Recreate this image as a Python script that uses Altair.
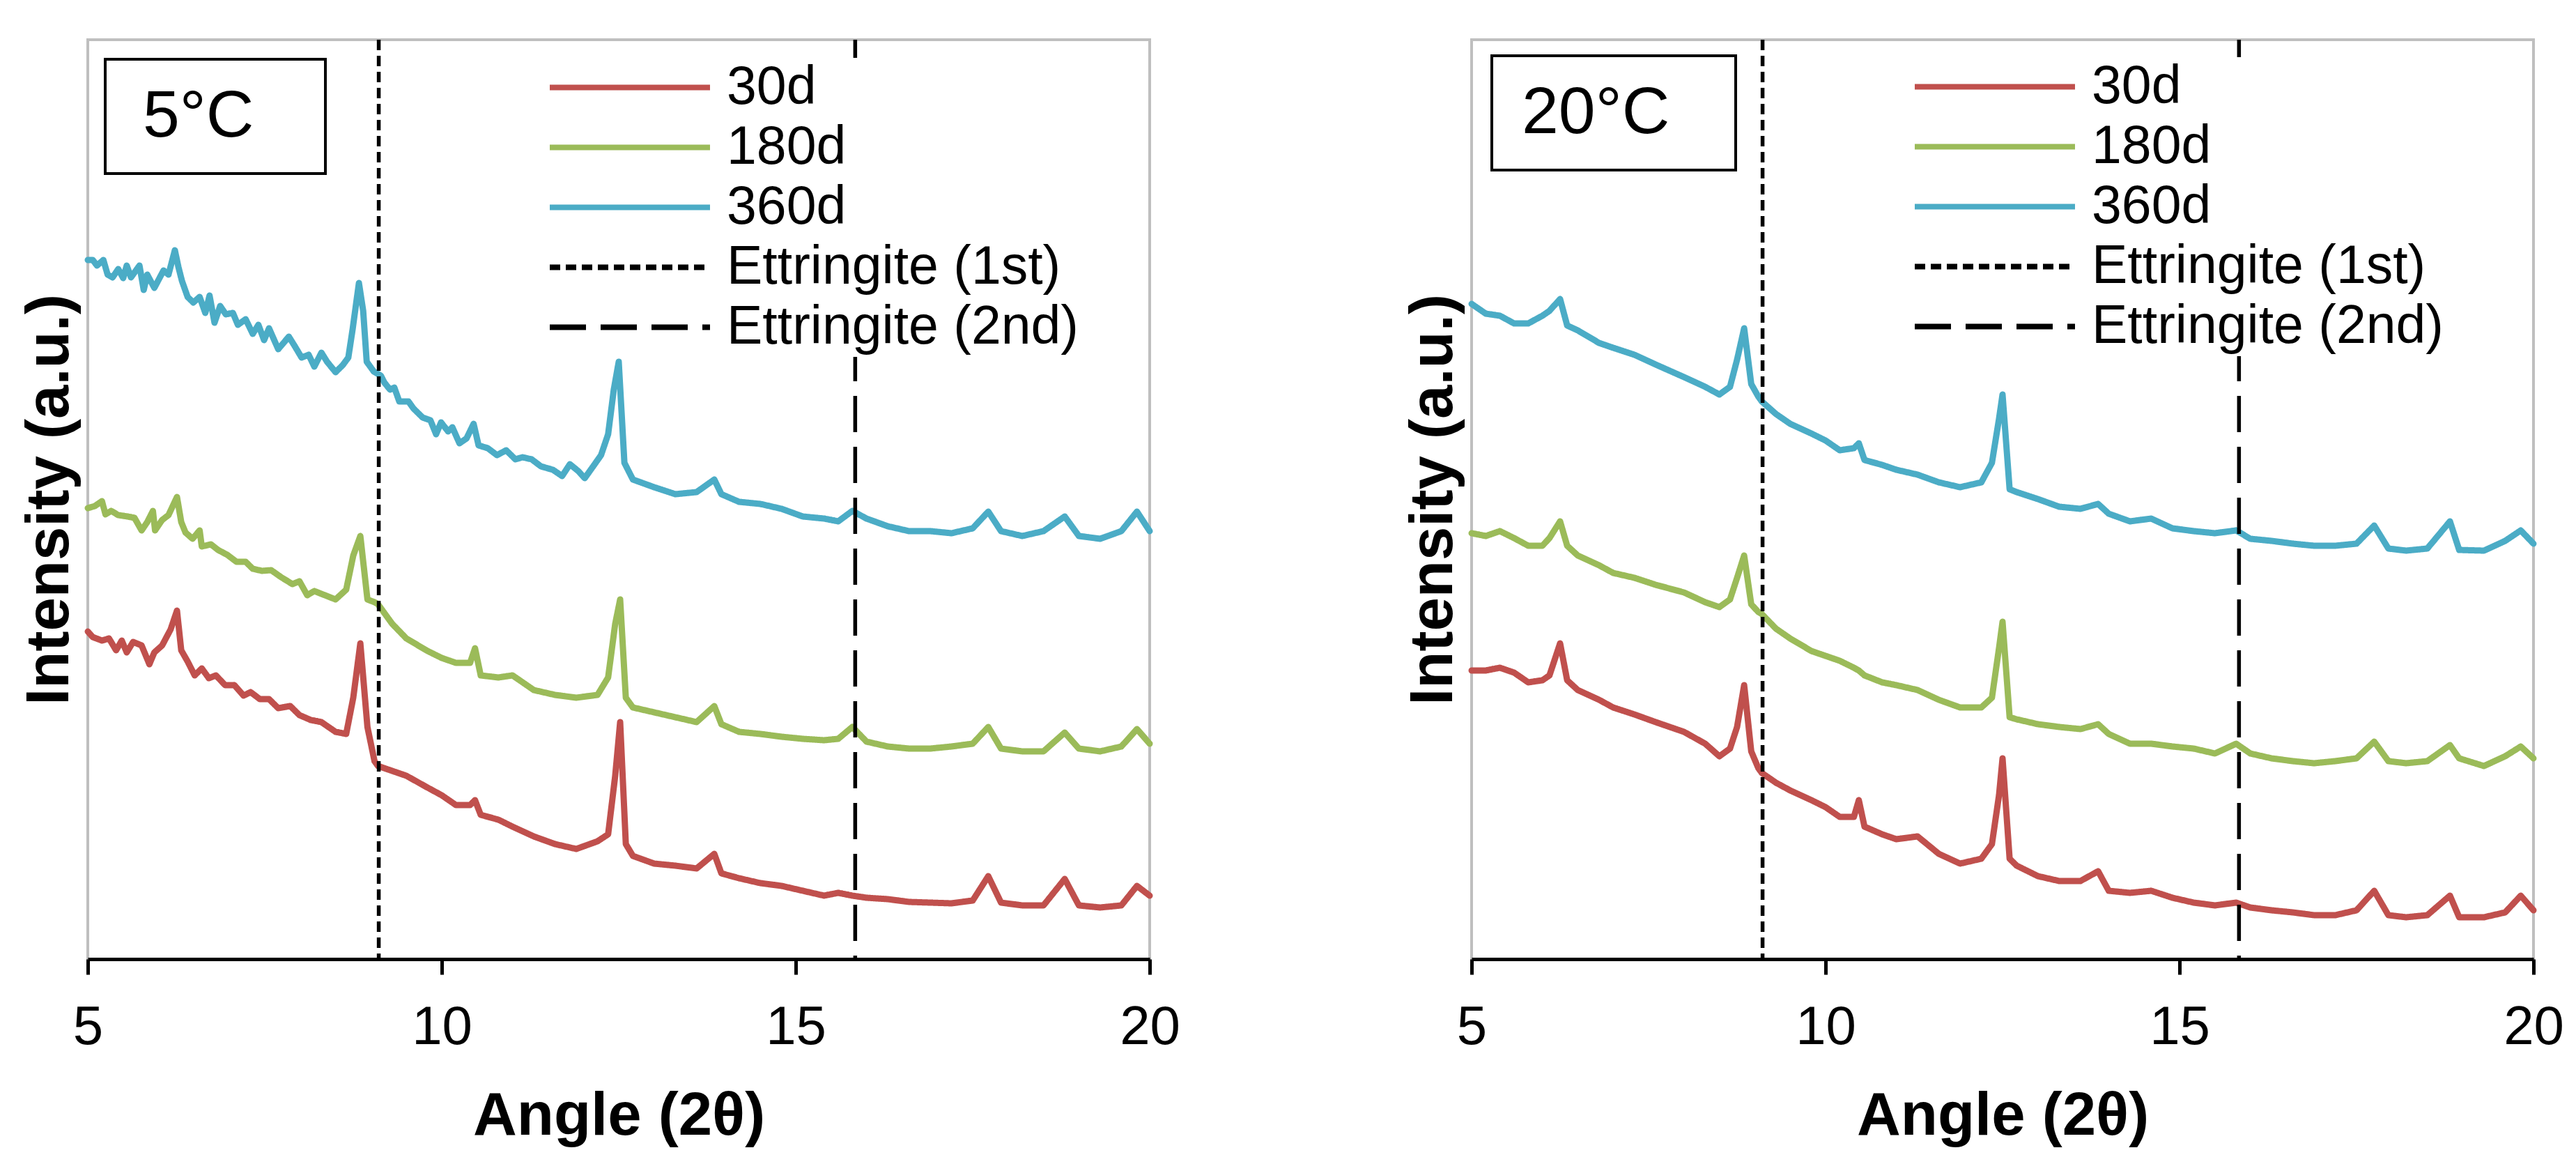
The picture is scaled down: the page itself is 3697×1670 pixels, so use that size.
import altair as alt
import pandas as pd

FONT = "Liberation Sans"

SERIES = ["30d", "180d", "360d"]
ETT_NAMES = ["Ettringite (1st)", "Ettringite (2nd)"]
ETT_ANGLES = [9.11, 15.84]
LEGEND_ORDER = SERIES + ETT_NAMES
LINE_COLORS = ["#c0504d", "#9bbb59", "#4bacc6", "#000000", "#000000"]
LINE_DASHES = [[1, 0], [1, 0], [1, 0], [15, 8], [52, 21]]
X_TICKS = [5, 10, 15, 20]
TEMPS = ["5°C", "20°C"]

# ---- 5°C panel: (angle 2θ, intensity a.u.) ----
L_360D = [(5.0, 1003), (5.07, 1003), (5.13, 995), (5.22, 1003), (5.28, 982), (5.35, 978),
          (5.43, 990), (5.5, 977), (5.55, 995), (5.61, 978), (5.73, 995), (5.79, 960),
          (5.84, 982), (5.94, 963), (6.07, 988), (6.14, 982), (6.23, 1017), (6.28, 993),
          (6.33, 973), (6.41, 950), (6.49, 942), (6.58, 950), (6.66, 927), (6.72, 952),
          (6.79, 913), (6.87, 937), (6.95, 925), (7.05, 927), (7.12, 910), (7.23, 918),
          (7.33, 897), (7.41, 910), (7.49, 888), (7.56, 905), (7.69, 875), (7.84, 893),
          (7.92, 880), (8.02, 863), (8.12, 867), (8.2, 850), (8.3, 870), (8.38, 857),
          (8.5, 842), (8.6, 852), (8.68, 863), (8.74, 903), (8.83, 970), (8.89, 930),
          (8.94, 857), (9.04, 843), (9.14, 837), (9.19, 827), (9.27, 817), (9.33, 820),
          (9.4, 800), (9.53, 800), (9.6, 790), (9.73, 777), (9.84, 773), (9.92, 753),
          (9.99, 770), (10.09, 757), (10.15, 763), (10.25, 740), (10.35, 747), (10.45, 768),
          (10.52, 737), (10.65, 733), (10.78, 723), (10.91, 730), (11.04, 717), (11.14, 720),
          (11.27, 717), (11.4, 707), (11.57, 702), (11.7, 693), (11.81, 710), (11.93, 700),
          (12.02, 690), (12.16, 710), (12.25, 723), (12.35, 753), (12.43, 817), (12.5, 857),
          (12.58, 712), (12.7, 688), (13.0, 677), (13.3, 667), (13.6, 670), (13.85, 688),
          (13.95, 667), (14.2, 656), (14.5, 653), (14.8, 646), (15.1, 635), (15.4, 632),
          (15.6, 628), (15.8, 643), (16.0, 632), (16.3, 621), (16.6, 614), (16.9, 614),
          (17.2, 611), (17.5, 618), (17.72, 642), (17.9, 614), (18.2, 607), (18.5, 614),
          (18.8, 635), (19.0, 607), (19.3, 603), (19.6, 614), (19.82, 642), (20.0, 614)]
L_180D = [(5.0, 647), (5.1, 650), (5.2, 657), (5.25, 638), (5.33, 643), (5.43, 637),
          (5.56, 635), (5.66, 633), (5.76, 615), (5.84, 627), (5.92, 643), (5.95, 615),
          (6.05, 630), (6.14, 637), (6.26, 663), (6.32, 627), (6.38, 612), (6.48, 603),
          (6.58, 615), (6.61, 592), (6.74, 595), (6.84, 587), (6.97, 580), (7.1, 570),
          (7.23, 570), (7.33, 560), (7.46, 557), (7.59, 558), (7.73, 548), (7.89, 538),
          (7.99, 542), (8.1, 522), (8.2, 528), (8.5, 516), (8.65, 530), (8.75, 579),
          (8.85, 607), (8.95, 516), (9.05, 512), (9.1, 509), (9.3, 481), (9.5, 460),
          (9.8, 442), (10.0, 432), (10.2, 425), (10.4, 425), (10.47, 446), (10.55, 407),
          (10.8, 404), (11.0, 407), (11.3, 386), (11.6, 379), (11.9, 375), (12.2, 379),
          (12.35, 404), (12.45, 481), (12.52, 516), (12.6, 375), (12.7, 361), (13.0, 354),
          (13.3, 347), (13.6, 340), (13.85, 363), (13.95, 337), (14.2, 326), (14.5, 323),
          (14.8, 319), (15.1, 316), (15.4, 314), (15.6, 316), (15.8, 333), (16.0, 312),
          (16.3, 305), (16.6, 302), (16.9, 302), (17.2, 305), (17.5, 309), (17.72, 333),
          (17.9, 302), (18.2, 298), (18.5, 298), (18.8, 325), (19.0, 302), (19.3, 298),
          (19.6, 305), (19.82, 330), (20.0, 309)]
L_30D = [(5.0, 470), (5.07, 462), (5.2, 457), (5.3, 460), (5.4, 443), (5.48, 457),
         (5.55, 440), (5.64, 455), (5.76, 450), (5.87, 423), (5.94, 440), (6.05, 450),
         (6.17, 473), (6.26, 500), (6.32, 443), (6.41, 427), (6.51, 407), (6.61, 417),
         (6.71, 403), (6.81, 407), (6.94, 393), (7.07, 393), (7.2, 378), (7.3, 383),
         (7.43, 373), (7.56, 373), (7.69, 360), (7.86, 363), (7.99, 350), (8.15, 343),
         (8.3, 340), (8.5, 326), (8.65, 323), (8.75, 375), (8.85, 453), (8.95, 333),
         (9.05, 284), (9.1, 277), (9.3, 270), (9.5, 263), (9.8, 246), (10.0, 235),
         (10.2, 221), (10.4, 221), (10.47, 228), (10.55, 207), (10.8, 200), (11.0, 190),
         (11.3, 176), (11.6, 165), (11.9, 158), (12.2, 169), (12.35, 179), (12.45, 263),
         (12.52, 340), (12.6, 165), (12.7, 148), (13.0, 137), (13.3, 134), (13.6, 130),
         (13.85, 151), (13.95, 123), (14.2, 116), (14.5, 109), (14.8, 105), (15.1, 98),
         (15.4, 91), (15.6, 95), (15.8, 91), (16.0, 88), (16.3, 86), (16.6, 82),
         (16.9, 81), (17.2, 80), (17.5, 84), (17.72, 119), (17.9, 81), (18.2, 77),
         (18.5, 77), (18.8, 115), (19.0, 77), (19.3, 74), (19.6, 77), (19.82, 105),
         (20.0, 91)]

# ---- 20°C panel ----
R_ANGLE = [5.0, 5.2, 5.4, 5.6, 5.8, 6.0, 6.1, 6.25, 6.35, 6.5, 6.8, 7.0, 7.3, 7.6, 8.0,
           8.3, 8.5, 8.65, 8.75, 8.85, 8.95, 9.05, 9.1, 9.3, 9.5, 9.8, 10.0, 10.2, 10.4,
           10.47, 10.55, 10.8, 11.0, 11.3, 11.6, 11.9, 12.2, 12.35, 12.45, 12.5, 12.6,
           12.7, 13.0, 13.3, 13.6, 13.85, 14.0, 14.3, 14.6, 14.9, 15.2, 15.5, 15.8, 16.0,
           16.3, 16.6, 16.9, 17.2, 17.5, 17.75, 17.95, 18.2, 18.5, 18.82, 18.95, 19.3,
           19.6, 19.82, 20.0]
R_360D_VAL = [940, 926, 923, 912, 912, 923, 930, 947, 909, 902, 884, 877, 867, 853, 835,
              821, 810, 821, 860, 905, 825, 807, 800, 782, 768, 754, 744, 730, 733,
              740, 716, 709, 702, 695, 684, 677, 684, 712, 775, 810, 674,
              670, 660, 649, 646, 653, 639, 628, 632, 618, 614, 611, 615, 603,
              600, 596, 593, 593, 596, 622, 589, 586, 589, 628, 587, 586,
              600, 615, 596]
R_180D_VAL = [611, 607, 614, 604, 593, 593, 604, 628, 593, 579, 565, 554, 547, 537, 526,
              512, 505, 516, 547, 579, 509, 498, 495, 474, 460, 442, 435, 428, 418,
              414, 407, 397, 393, 386, 372, 361, 361, 375, 446, 484, 347,
              344, 337, 333, 330, 337, 323, 309, 309, 305, 302, 295, 309, 295,
              288, 284, 281, 284, 288, 312, 284, 281, 284, 307, 288, 277,
              291, 305, 288]
R_30D_VAL = [414, 414, 418, 411, 397, 400, 407, 453, 400, 386, 372, 361, 351, 340, 326,
             309, 291, 302, 333, 393, 298, 274, 267, 253, 242, 228, 218, 204, 204,
             228, 190, 179, 172, 176, 151, 137, 144, 165, 235, 288, 144,
             134, 119, 112, 112, 126, 98, 95, 98, 88, 81, 77, 81, 74,
             70, 67, 63, 63, 70, 98, 63, 60, 63, 91, 60, 60,
             67, 91, 70]
R_30D = list(zip(R_ANGLE, R_30D_VAL))
R_180D = list(zip(R_ANGLE, R_180D_VAL))
R_360D = list(zip(R_ANGLE, R_360D_VAL))
for v in (R_30D_VAL, R_180D_VAL, R_360D_VAL):
    assert len(v) == len(R_ANGLE)

PLOT_W = 1524
PLOT_H = 1319


def panel(temp, s30, s180, s360, leg_x, leg_y, box_x, box_y, box_offset, box_right):
    rows = []
    for name, pts in zip(SERIES, (s30, s180, s360)):
        rows += [{"angle": a, "intensity": v, "series": name} for a, v in pts]
    curves = pd.DataFrame(rows)
    ett = pd.DataFrame({"angle": ETT_ANGLES, "series": ETT_NAMES})
    tag = pd.DataFrame({"temp": [temp]})

    series_legend = alt.Legend(
        title=None, orient="none", legendX=leg_x, legendY=leg_y,
        symbolType="stroke", symbolSize=52900, symbolStrokeWidth=8, clipHeight=77,
        labelFont=FONT, labelFontSize=77, labelColor="black", labelOffset=20,
        labelLimit=2000, rowPadding=8, padding=4, fillColor="white", zindex=2,
    )
    color = alt.Color("series:N", scale=alt.Scale(domain=LEGEND_ORDER, range=LINE_COLORS),
                      legend=series_legend)
    dash = alt.StrokeDash("series:N", scale=alt.Scale(domain=LEGEND_ORDER, range=LINE_DASHES),
                          legend=series_legend)
    x = alt.X("angle:Q", scale=alt.Scale(domain=[5, 20], nice=False, zero=False),
              axis=alt.Axis(values=X_TICKS, format="d", title="Angle (2θ)", labelFlush=False,
                            labelOverlap=False, grid=False))
    y = alt.Y("intensity:Q", scale=alt.Scale(domain=[0, PLOT_H], nice=False),
              axis=alt.Axis(title="Intensity (a.u.)", labels=False, ticks=False,
                            domain=False, grid=False, titlePadding=11))

    lines = alt.Chart(curves).mark_line(strokeWidth=9, strokeJoin="round", strokeCap="round").encode(
        x=x, y=y, color=color, strokeDash=dash, detail="series:N")
    rules = alt.Chart(ett).mark_rule(strokeWidth=5.5).encode(
        x=alt.X("angle:Q"), color=color, strokeDash=dash)

    # temperature tag: a bordered legend holding the panel's temperature;
    # a small white spacer title on the right widens the box.
    tagbox = alt.Chart(tag).mark_point(opacity=0).encode(
        shape=alt.Shape("temp:N", legend=alt.Legend(
            title=".", titleOrient="right", titleColor="white", titleFontSize=12,
            titlePadding=box_right,
            orient="none", legendX=box_x, legendY=box_y,
            symbolSize=0, symbolOpacity=0, symbolStrokeWidth=0,
            labelFont=FONT, labelFontSize=95, labelColor="black",
            labelOffset={"expr": str(box_offset)}, labelLimit=2000,
            padding=34, strokeColor="black", fillColor="white", clipHeight=95, zindex=2,
        )))
    return alt.layer(lines, rules, tagbox).properties(width=PLOT_W, height=PLOT_H)


left = panel(TEMPS[0], L_30D, L_180D, L_360D, 655, 26, 25, 28, -75, 65)
right = panel(TEMPS[1], R_30D, R_180D, R_360D, 628, 25, 29, 23, -86, 57)

chart = (
    alt.hconcat(left, right, spacing=315)
    .resolve_scale(color="independent", strokeDash="independent", shape="independent",
                   x="independent", y="independent")
    .resolve_legend(color="independent", strokeDash="independent", shape="independent")
    .properties(padding={"left": 17, "top": 44, "right": 5, "bottom": 5}, background="white")
    .configure_view(stroke="#bfbfbf", strokeWidth=4)
    .configure_axis(
        labelFont=FONT, labelFontSize=78, labelColor="black", labelPadding=37,
        titleFont=FONT, titleFontSize=87, titleFontWeight="bold", titleColor="black",
        titlePadding=45, domainColor="black", domainWidth=5, tickColor="black",
        tickWidth=5, tickSize=22, grid=False,
    )
    .configure_legend(strokeWidth=4)
)

chart.save("out.html", embed_options={"renderer": "svg", "actions": False})
